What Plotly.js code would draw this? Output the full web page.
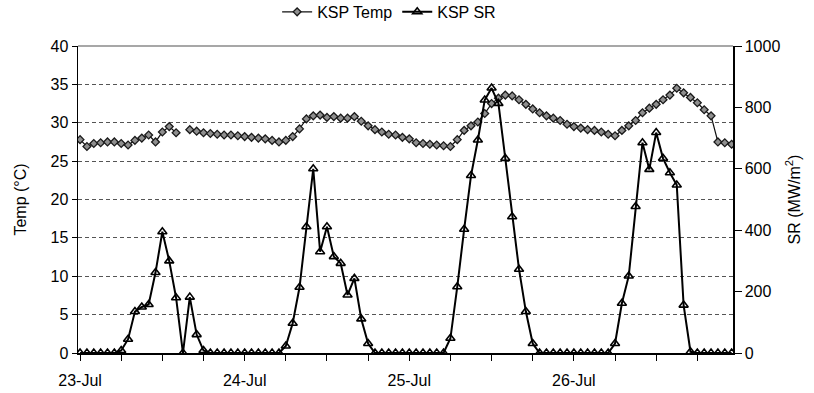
<!DOCTYPE html>
<html>
<head>
<meta charset="utf-8">
<script src="https://cdn.plot.ly/plotly-3.0.1.min.js"></script>
<style>html,body{margin:0;padding:0;background:#fff;}#chart{width:814px;height:393px;}</style>
</head>
<body>
<div id="chart"></div>
<script>
// Hourly readings, 23-Jul 00:00 to 26-Jul 23:00
const dayLabels = ['23-Jul', '24-Jul', '25-Jul', '26-Jul'];

const kspTemp = [
  27.8, 26.9, 27.3, 27.4, 27.5, 27.5, 27.3, 27.1, 27.7, 28.0, 28.4, 27.5,
  28.8, 29.5, 28.7, null, 29.1, 28.9, 28.7, 28.6, 28.5, 28.4, 28.4, 28.3,
  28.2, 28.1, 28.0, 27.9, 27.7, 27.5, 27.7, 28.2, 29.2, 30.5, 30.9, 31.0,
  30.7, 30.8, 30.6, 30.6, 30.8, 30.2, 29.6, 29.1, 28.8, 28.5, 28.4, 28.1,
  27.9, 27.4, 27.3, 27.2, 27.1, 27.0, 26.9, 27.8, 29.0, 29.6, 30.1, 31.2,
  32.5, 33.2, 33.6, 33.5, 33.0, 32.4, 31.8, 31.3, 30.9, 30.6, 30.3, 29.8,
  29.5, 29.3, 29.1, 29.0, 28.8, 28.5, 28.3, 29.0, 29.6, 30.3, 31.3, 31.9,
  32.4, 33.0, 33.6, 34.5, 33.9, 33.3, 32.6, 31.7, 30.9, 27.5, 27.4, 27.2
];

const kspSR = [
  0, 0, 0, 0, 0, 0, 8, 45, 135, 150, 158, 262,
  395, 300, 180, 0, 182, 60, 8, 0, 0, 0, 0, 0,
  0, 0, 0, 0, 0, 0, 23, 97, 214, 411, 600, 330,
  411, 314, 292, 189, 243, 111, 31, 0, 0, 0, 0, 0,
  0, 0, 0, 0, 0, 0, 48, 216, 403, 578, 694, 824,
  863, 813, 634, 444, 273, 135, 31, 0, 0, 0, 0, 0,
  0, 0, 0, 0, 0, 0, 31, 162, 251, 477, 685, 598,
  718, 634, 587, 547, 156, 4, 0, 0, 0, 0, 0, 0
];

const hours = kspTemp.map((_, i) => i);
const dayTicks = dayLabels.map((_, d) => d * 24);

const FONT = 'Arial, "Liberation Sans", sans-serif';

const traces = [
  {x: [0], y: [0], yaxis: 'y3', mode: 'markers', marker: {opacity: 0}, showlegend: false, hoverinfo: 'skip'},
  {
    x: hours, y: kspTemp, name: 'KSP Temp', type: 'scatter', mode: 'lines+markers',
    yaxis: 'y', connectgaps: false,
    line: {color: '#111', width: 1.2},
    marker: {symbol: 'diamond', size: 6, color: '#8f8f8f', line: {color: '#1a1a1a', width: 1.3}}
  },
  {
    x: hours, y: kspSR, name: 'KSP SR', type: 'scatter', mode: 'lines+markers',
    yaxis: 'y2',
    line: {color: '#000', width: 2},
    marker: {symbol: 'triangle-up-open', size: 8, color: '#000', line: {width: 1.6}}
  }
];

const layout = {
  width: 814, height: 393,
  margin: {l: 78, r: 81, t: 46, b: 40, autoexpand: false},
  paper_bgcolor: '#fff', plot_bgcolor: 'rgba(0,0,0,0)',
  font: {family: FONT, size: 16, color: '#000'},
  showlegend: true,
  legend: {orientation: 'h', x: 0.475, xanchor: 'center', y: 1.111, yanchor: 'middle',
           font: {family: FONT, size: 16}, itemwidth: 30, tracegroupgap: 0},
  xaxis: {
    range: [-0.3, 95.2], showgrid: false, zeroline: false,
    showline: true, linecolor: '#000', linewidth: 1.5,
    tickmode: 'array', tickvals: dayTicks, ticktext: dayLabels,
    ticks: 'outside', ticklen: 6, tickcolor: '#000', tickwidth: 1,
    minor: {tick0: 0, dtick: 6, ticks: 'outside', ticklen: 6, tickcolor: '#000', tickwidth: 1, showgrid: false},
    ticklabelstandoff: 6,
    tickfont: {family: FONT, size: 16}
  },
  yaxis: {
    range: [0, 40], dtick: 5, showgrid: false, zeroline: false,
    showline: true, linecolor: '#000', linewidth: 1.5,
    ticks: 'outside', ticklen: 5, tickcolor: '#000',
    tickfont: {family: FONT, size: 16},
    title: {text: 'Temp (\u00B0C)', font: {family: FONT, size: 16}, standoff: 20}
  },
  yaxis2: {
    range: [0, 1000], dtick: 200, overlaying: 'y', side: 'right',
    showgrid: false, zeroline: false,
    showline: true, linecolor: '#000', linewidth: 1.5,
    ticks: 'outside', ticklen: 7, tickcolor: '#000',
    tickfont: {family: FONT, size: 16},
    title: {text: 'SR (MW/m<sup>2</sup>)', font: {family: FONT, size: 16}, standoff: 9}
  },
  yaxis3: {
    range: [0, 40], overlaying: 'y', side: 'left', tickmode: 'array',
    tickvals: [5, 10, 15, 20, 25, 30, 35], showticklabels: false, ticks: '',
    showgrid: true, gridcolor: '#555', gridwidth: 1, griddash: '4px,3px',
    zeroline: false, showline: false
  },
  shapes: [
    {type: 'line', xref: 'paper', yref: 'paper', x0: 0, x1: 1, y0: 1, y1: 1,
     line: {color: '#8a8a8a', width: 1.5}}
  ]
};

Plotly.newPlot('chart', traces, layout, {staticPlot: true, displayModeBar: false});
</script>
</body>
</html>
